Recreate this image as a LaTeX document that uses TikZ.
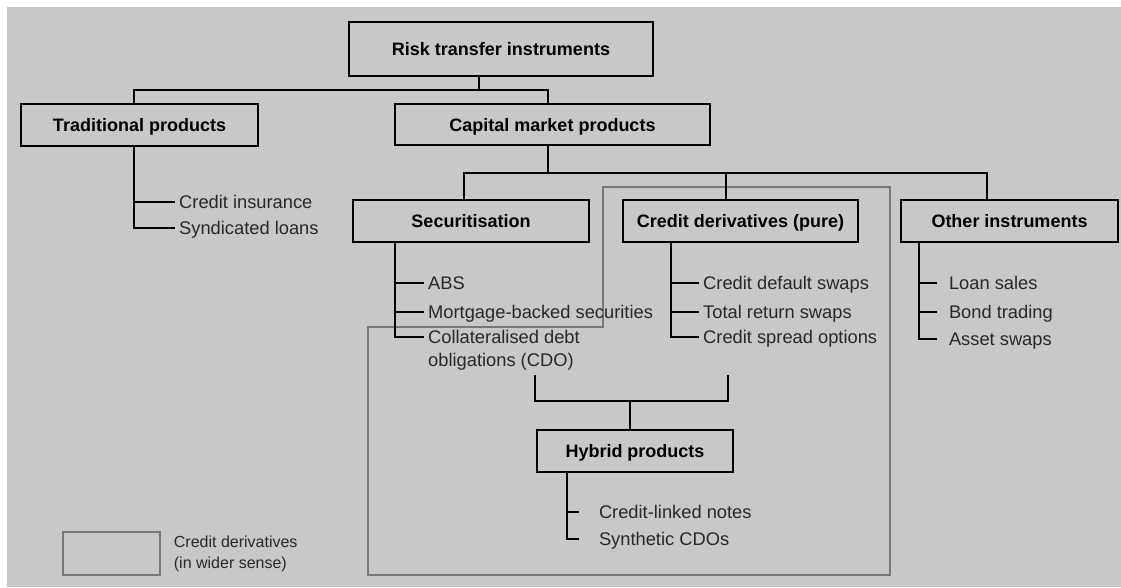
\documentclass[tikz,border=0pt]{standalone}
\usepackage{fontspec}
\setmainfont{Liberation Sans}
\definecolor{bggray}{RGB}{200,200,200}
\definecolor{framegray}{RGB}{120,120,120}
\definecolor{txtgray}{RGB}{40,40,40}
\tikzset{
  pbox/.style={draw=black, line width=2.8pt, fill=bggray, inner sep=0pt,
    font=\fontsize{18}{22}\selectfont\bfseries, text height=13pt, text depth=0pt},
  conn/.style={draw=black, line width=2.3pt},
  lbl/.style={inner xsep=4pt, inner ysep=0pt, text height=13pt, text depth=0pt,
    font=\fontsize{18.3}{22}\selectfont, text=txtgray},
  frameline/.style={draw=framegray, line width=1.4pt}
}
\begin{document}
\begin{tikzpicture}[x=1pt,y=-1pt]
\useasboundingbox (0,0) rectangle (1121,587);
\fill[white] (0,0) rectangle (1121,587);
\fill[bggray] (7,7) rectangle (1121,587);

% wider-sense frame
\draw[frameline] (603,187) -- (890,187) -- (890,575) -- (368,575) -- (368,327) -- (603,327) -- cycle;

% boxes
\node[pbox, minimum width=304pt, minimum height=54pt] (risk) at (501,49) {Risk transfer instruments};
\node[pbox, minimum width=237pt, minimum height=42pt] (trad) at (139.5,125) {Traditional products};
\node[pbox, minimum width=315pt, minimum height=41pt] (cap) at (552.5,124.5) {Capital market products};
\node[pbox, minimum width=236pt, minimum height=42pt] (sec) at (471,221) {Securitisation};
\node[pbox, minimum width=235pt, minimum height=42pt] (cdp) at (740.5,221) {Credit derivatives (pure)};
\node[pbox, minimum width=217pt, minimum height=42pt] (oth) at (1009.5,221) {Other instruments};
\node[pbox, minimum width=196pt, minimum height=42pt] (hyb) at (635,451) {Hybrid products};

% junction coordinates
\coordinate (j0) at (479,90);
\coordinate (jt) at (134,90);
\coordinate (jc) at (548,90);
\coordinate (jcs) at (548,173);
\coordinate (js) at (464,173);
\coordinate (jd) at (726,173);
\coordinate (jo) at (987,173);
\coordinate (sx) at (395,0);
\coordinate (dx) at (671,0);
\coordinate (ox) at (919,0);
\coordinate (hx) at (567,0);
\coordinate (ml) at (535,375);
\coordinate (mr) at (728,375);
\coordinate (mj) at (630,401);

% top level
\draw[conn] (risk.south -| j0) -- (j0);
\draw[conn] (trad.north -| jt) -- (jt) -- (jc) -- (cap.north -| jc);
% capital level
\draw[conn] (cap.south -| jcs) -- (jcs);
\draw[conn] (sec.north -| js) -- (js) -- (jo) -- (oth.north -| jo);
\draw[conn] (jd) -- (cdp.north -| jd);

% leaves: traditional
\node[lbl, anchor=west] (ci) at (175,202) {Credit insurance};
\node[lbl, anchor=west] (sl) at (175,228) {Syndicated loans};
\draw[conn] (trad.south -| jt) |- (ci.west);
\draw[conn] (trad.south -| jt) |- (sl.west);

% leaves: securitisation
\node[lbl, anchor=west] (abs) at (424,283) {ABS};
\node[lbl, anchor=west] (mbs) at (424,312) {Mortgage-backed securities};
\node[lbl, anchor=west] (cdo) at (424,337) {Collateralised debt};
\node[lbl, anchor=west] (cdob) at (424,360) {obligations (CDO)};
\draw[conn] (sec.south -| sx) |- (abs.west);
\draw[conn] (sec.south -| sx) |- (mbs.west);
\draw[conn] (sec.south -| sx) |- (cdo.west);

% leaves: credit derivatives (pure)
\node[lbl, anchor=west] (cds) at (699,283) {Credit default swaps};
\node[lbl, anchor=west] (trs) at (699,312) {Total return swaps};
\node[lbl, anchor=west] (cso) at (699,337) {Credit spread options};
\draw[conn] (cdp.south -| dx) |- (cds.west);
\draw[conn] (cdp.south -| dx) |- (trs.west);
\draw[conn] (cdp.south -| dx) |- (cso.west);

% leaves: other instruments
\node[lbl, anchor=west, outer xsep=8pt] (ls) at (937,283) {Loan sales};
\node[lbl, anchor=west, outer xsep=8pt] (bt) at (937,312) {Bond trading};
\node[lbl, anchor=west, outer xsep=8pt] (as) at (937,339) {Asset swaps};
\draw[conn] (oth.south -| ox) |- (ls.west);
\draw[conn] (oth.south -| ox) |- (bt.west);
\draw[conn] (oth.south -| ox) |- (as.west);

% merge to hybrid
\draw[conn] (ml) |- (mj) -| (mr);
\draw[conn] (mj) -- (hyb.north -| mj);

% leaves: hybrid
\node[lbl, anchor=west, outer xsep=16pt] (cln) at (579,512) {Credit-linked notes};
\node[lbl, anchor=west, outer xsep=16pt] (syn) at (579,539) {Synthetic CDOs};
\draw[conn] (hyb.south -| hx) |- (cln.west);
\draw[conn] (hyb.south -| hx) |- (syn.west);

% legend
\node[draw=framegray, line width=1.4pt, minimum width=97pt, minimum height=43pt, inner sep=0pt] (leg) at (111.5,553.5) {};
\node[anchor=west, align=left, inner sep=0pt, font=\fontsize{16}{21}\selectfont, text=txtgray] (legt) at ([xshift=13pt]leg.east) {Credit derivatives\\(in wider sense)};
\end{tikzpicture}
\end{document}
